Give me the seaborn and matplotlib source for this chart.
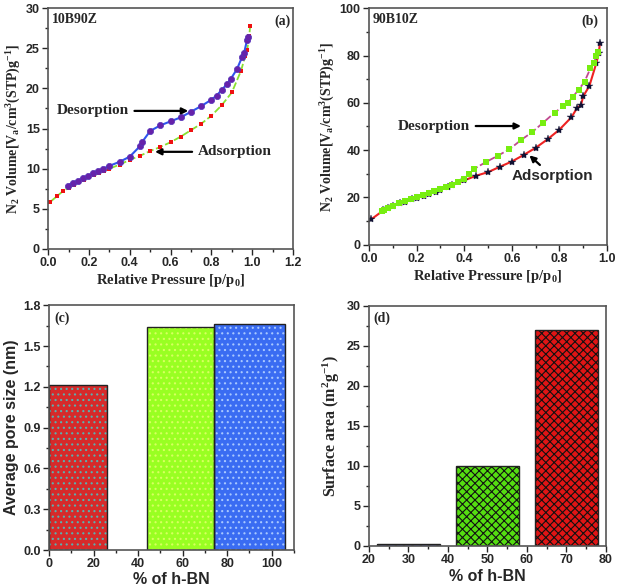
import matplotlib
matplotlib.use("Agg")
import matplotlib.pyplot as plt
import pandas as pd
import seaborn as sns
from matplotlib.patches import Rectangle
from matplotlib.ticker import AutoMinorLocator, MultipleLocator

# (a) 10B90Z isotherm
ads_a_p = [0.01, 0.045, 0.075, 0.10, 0.125, 0.15, 0.175, 0.20, 0.225, 0.25, 0.275, 0.30,
           0.35, 0.40, 0.45, 0.50, 0.55, 0.60, 0.65, 0.70, 0.75, 0.80, 0.85, 0.90,
           0.945, 0.965, 0.975, 0.985, 0.99]
ads_a_v = [5.85, 6.6, 7.25, 7.6, 8.0, 8.3, 8.6, 8.9, 9.2, 9.45, 9.75, 10.0,
           10.5, 11.1, 11.6, 12.2, 12.7, 13.3, 14.0, 14.8, 15.6, 16.6, 17.9, 19.5,
           22.2, 24.0, 24.8, 26.5, 27.8]
des_a_p = [0.095, 0.12, 0.145, 0.17, 0.195, 0.22, 0.245, 0.27, 0.30, 0.35, 0.40, 0.45,
           0.46, 0.50, 0.55, 0.60, 0.65, 0.70, 0.75, 0.80, 0.825, 0.85, 0.875, 0.895,
           0.925, 0.95, 0.96, 0.975, 0.98]
des_a_v = [7.9, 8.2, 8.5, 8.8, 9.1, 9.4, 9.7, 10.0, 10.35, 10.85, 11.5, 12.8,
           13.3, 14.7, 15.4, 15.9, 16.4, 17.1, 17.8, 18.6, 19.1, 19.8, 20.5, 21.2,
           22.4, 23.9, 24.4, 26.1, 26.4]

# (b) 90B10Z isotherm
ads_b_p = [0.01, 0.06, 0.08, 0.10, 0.13, 0.15, 0.18, 0.20, 0.23, 0.25, 0.28, 0.30,
           0.33, 0.35, 0.40, 0.45, 0.50, 0.55, 0.60, 0.65, 0.70, 0.75, 0.80, 0.85,
           0.875, 0.89, 0.90, 0.925, 0.955, 0.965, 0.97]
ads_b_v = [10.8, 14.5, 15.5, 16.5, 17.5, 18.2, 19.2, 19.9, 20.8, 21.5, 22.5, 23.2,
           24.3, 25.2, 27.2, 29.2, 30.7, 33.0, 35.2, 38.0, 41.0, 44.6, 48.7, 53.9,
           58.0, 59.0, 62.9, 67.0, 76.9, 80.9, 85.5]
des_b_p = [0.055, 0.065, 0.08, 0.10, 0.125, 0.15, 0.175, 0.20, 0.225, 0.25, 0.275, 0.30,
           0.325, 0.35, 0.375, 0.40, 0.42, 0.44, 0.49, 0.54, 0.59, 0.64, 0.685, 0.73,
           0.78, 0.815, 0.835, 0.855, 0.88, 0.905, 0.93, 0.945, 0.955, 0.96]
des_b_v = [14.3, 14.8, 15.6, 16.6, 17.6, 18.5, 19.3, 20.1, 21.0, 21.8, 22.6, 23.5,
           24.4, 25.4, 26.4, 27.8, 30.0, 32.0, 34.9, 37.6, 40.4, 44.4, 47.6, 51.5,
           55.9, 58.5, 60.0, 62.4, 65.5, 68.9, 74.6, 77.0, 79.7, 81.3]

# (c) average pore size
pore_bn = [13, 59, 90]
pore_size = [1.21, 1.64, 1.66]
pore_widths = [26, 30, 32]

# (d) surface area
area_bn = [30, 50, 70]
surface_area = [0.3, 10.0, 27.0]

sns.set_style("ticks")
plt.rcParams.update({
    "font.family": ["Liberation Sans", "DejaVu Sans"],
    "font.weight": "bold",
    "axes.labelweight": "bold",
    "mathtext.fontset": "custom",
    "mathtext.rm": "Liberation Serif:bold",
    "mathtext.default": "rm",
    "axes.edgecolor": "#555555",
    "axes.linewidth": 1.2,
    "xtick.labelsize": 9,
    "ytick.labelsize": 9,
    "hatch.linewidth": 0.8,
})
SERIF = ["Liberation Serif", "DejaVu Serif"]

fig = plt.figure(figsize=(6.17, 5.87), dpi=100)
ax_a = fig.add_axes([0.078, 0.576, 0.397, 0.41])
ax_b = fig.add_axes([0.598, 0.583, 0.386, 0.403])
ax_c = fig.add_axes([0.0794, 0.063, 0.397, 0.417])
ax_d = fig.add_axes([0.598, 0.07, 0.384, 0.409])


def style_ticks(ax):
    ax.tick_params(which="both", direction="out", top=False, right=False, width=1,
                   labelfontfamily="Liberation Sans")
    ax.tick_params(which="major", length=4, pad=2)
    ax.tick_params(which="minor", length=2.5)


# ---- (a)
sns.lineplot(x=ads_a_p, y=ads_a_v, ax=ax_a, color="#88e030", linestyle=(0, (4, 1.5)),
             linewidth=1.3, marker="s", markersize=3.5, markerfacecolor="#ee1111",
             markeredgecolor="#ee1111", markeredgewidth=0)
sns.lineplot(x=des_a_p, y=des_a_v, ax=ax_a, color="#2f55ee", linewidth=1.5,
             marker="o", markersize=4.5, markerfacecolor="#6622aa",
             markeredgecolor="#5533bb", markeredgewidth=0.5)
ax_a.set_xlim(0, 1.2)
ax_a.set_ylim(0, 30)
ax_a.xaxis.set_major_locator(MultipleLocator(0.2))
ax_a.xaxis.set_major_formatter(plt.FormatStrFormatter("%.1f"))
ax_a.yaxis.set_major_locator(MultipleLocator(5))
ax_a.xaxis.set_minor_locator(AutoMinorLocator(2))
ax_a.yaxis.set_minor_locator(AutoMinorLocator(2))
ax_a.set_xlabel("Relative Pressure [p/p$_0$]", family=SERIF, fontsize=10.5, labelpad=2)
ax_a.set_ylabel("N$_2$ Volume[V$_a$/cm$^3$(STP)g$^{-1}$]", family=SERIF, fontsize=10, labelpad=2)
ax_a.text(0.016, 0.98, "10B90Z", transform=ax_a.transAxes, family=SERIF,
          fontsize=10, fontweight="bold", va="top")
ax_a.text(0.988, 0.975, "(a)", transform=ax_a.transAxes, family=SERIF,
          fontsize=10, fontweight="bold", va="top", ha="right")
ax_a.annotate("Desorption", xy=(0.70, 17.2), xytext=(0.04, 17.2), family=SERIF,
              fontsize=11, fontweight="bold", va="center",
              arrowprops=dict(arrowstyle="-|>", color="black", lw=1.6, mutation_scale=9))
ax_a.annotate("Adsorption", xy=(0.51, 12.1), xytext=(0.735, 12.1), family=SERIF,
              fontsize=11, fontweight="bold", va="center",
              arrowprops=dict(arrowstyle="-|>", color="black", lw=1.6, mutation_scale=9))
style_ticks(ax_a)

# ---- (b)
sns.lineplot(x=ads_b_p, y=ads_b_v, ax=ax_b, color="#ee2222", linewidth=1.5,
             marker="*", markersize=6, markerfacecolor="#111133",
             markeredgecolor="#111133", markeredgewidth=0.3)
sns.lineplot(x=des_b_p, y=des_b_v, ax=ax_b, color="#c04a90", linestyle=(0, (4, 1.5)),
             linewidth=1.3, marker="s", markersize=4, markerfacecolor="#77ee11",
             markeredgecolor="#77ee11", markeredgewidth=0)
ax_b.set_xlim(0, 1.0)
ax_b.set_ylim(0, 100)
ax_b.xaxis.set_major_locator(MultipleLocator(0.2))
ax_b.xaxis.set_major_formatter(plt.FormatStrFormatter("%.1f"))
ax_b.yaxis.set_major_locator(MultipleLocator(20))
ax_b.xaxis.set_minor_locator(AutoMinorLocator(2))
ax_b.yaxis.set_minor_locator(AutoMinorLocator(2))
ax_b.set_xlabel("Relative Pressure [p/p$_0$]", family=SERIF, fontsize=10.5, labelpad=2)
ax_b.set_ylabel("N$_2$ Volume[V$_a$/cm$^3$(STP)g$^{-1}$]", family=SERIF, fontsize=10, labelpad=2)
ax_b.text(0.016, 0.98, "90B10Z", transform=ax_b.transAxes, family=SERIF,
          fontsize=10, fontweight="bold", va="top")
ax_b.text(0.965, 0.975, "(b)", transform=ax_b.transAxes, family=SERIF,
          fontsize=10, fontweight="bold", va="top", ha="right")
ax_b.annotate("Desorption", xy=(0.65, 50.2), xytext=(0.12, 50.2), family=SERIF,
              fontsize=11, fontweight="bold", va="center",
              arrowprops=dict(arrowstyle="-|>", color="black", lw=1.6, mutation_scale=9))
ax_b.annotate("Adsorption", xy=(0.665, 38.6), xytext=(0.6, 29.0),
              fontsize=11, fontweight="bold", va="center",
              arrowprops=dict(arrowstyle="-|>", color="black", lw=1.6, mutation_scale=9,
                              relpos=(0.4, 1.0), shrinkA=1))
style_ticks(ax_b)


def add_hatch(ax, colors, pattern):
    bars = sorted([p for p in ax.patches if isinstance(p, Rectangle)], key=lambda p: p.get_x())
    for p, hc in zip(bars, colors):
        ax.add_patch(Rectangle(p.get_xy(), p.get_width(), p.get_height(), fill=False,
                               hatch=pattern, edgecolor=hc, linewidth=0, zorder=p.get_zorder() + 0.1))
        ax.add_patch(Rectangle(p.get_xy(), p.get_width(), p.get_height(), fill=False,
                               edgecolor="#222222", linewidth=1.0, zorder=p.get_zorder() + 0.2))


# ---- (c)
df_c = pd.DataFrame({"bn": pore_bn, "size": pore_size})
sns.barplot(data=df_c, x="bn", y="size", hue="bn", native_scale=True, legend=False,
            palette=["#d62a2a", "#99ff22", "#3a6cf2"], ax=ax_c, linewidth=0, saturation=1)
bars_c = sorted(ax_c.patches, key=lambda p: p.get_x())
for p, xc, w in zip(bars_c, pore_bn, pore_widths):
    p.set_x(xc - w / 2)
    p.set_width(w)
add_hatch(ax_c, ["#5ab0b0", "#d8ff60", "#a8c8ff"], "...")
ax_c.set_xlim(0, 110)
ax_c.set_ylim(0, 1.8)
ax_c.xaxis.set_major_locator(MultipleLocator(20))
ax_c.yaxis.set_major_locator(MultipleLocator(0.3))
ax_c.yaxis.set_major_formatter(plt.FormatStrFormatter("%.1f"))
ax_c.xaxis.set_minor_locator(AutoMinorLocator(2))
ax_c.yaxis.set_minor_locator(AutoMinorLocator(2))
ax_c.set_xlabel("% of h-BN", fontsize=11.5, fontweight="bold", labelpad=1)
ax_c.set_ylabel("Average pore size (nm)", fontsize=11.5, fontweight="bold", labelpad=3)
ax_c.text(0.02, 0.975, "(c)", transform=ax_c.transAxes, family=SERIF,
          fontsize=10, fontweight="bold", va="top")
style_ticks(ax_c)

# ---- (d)
df_d = pd.DataFrame({"bn": area_bn, "area": surface_area})
sns.barplot(data=df_d, x="bn", y="area", hue="bn", native_scale=True, legend=False,
            palette=["#2a3acc", "#55dd11", "#e01515"], ax=ax_d, linewidth=0, saturation=1)
add_hatch(ax_d, ["#111111", "#111111", "#111111"], "xxxx")
ax_d.set_xlim(20, 80)
ax_d.set_ylim(0, 30)
ax_d.xaxis.set_major_locator(MultipleLocator(10))
ax_d.yaxis.set_major_locator(MultipleLocator(5))
ax_d.xaxis.set_minor_locator(AutoMinorLocator(2))
ax_d.yaxis.set_minor_locator(AutoMinorLocator(2))
ax_d.set_xlabel("% of h-BN", fontsize=11.5, fontweight="bold", labelpad=2)
ax_d.set_ylabel("Surface area (m$^2$g$^{-1}$)", family=SERIF, fontsize=11.5, labelpad=3)
ax_d.text(0.02, 0.975, "(d)", transform=ax_d.transAxes, family=SERIF,
          fontsize=10, fontweight="bold", va="top")
style_ticks(ax_d)

for ax in (ax_a, ax_b, ax_c, ax_d):
    for lab in ax.get_xticklabels() + ax.get_yticklabels():
        lab.set_fontweight("bold")

fig.savefig("out.png", dpi=100)
